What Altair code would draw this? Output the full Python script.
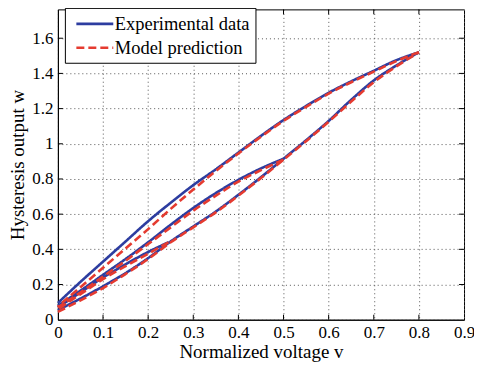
import altair as alt
import pandas as pd

SERIES = ["Experimental data", "Model prediction"]
COLORS = ["#2D3DA0", "#E53B30"]
DASHES = [[1, 0], [8, 4]]

x_ticks = [0, 0.1, 0.2, 0.3, 0.4, 0.5, 0.6, 0.7, 0.8, 0.9]
y_ticks = [0, 0.2, 0.4, 0.6, 0.8, 1, 1.2, 1.4, 1.6]

# ascending (lower) branch, shared by all loops
asc_v = [0.0, 0.05, 0.1, 0.15, 0.2, 0.25, 0.3, 0.35, 0.4, 0.45, 0.5, 0.55, 0.6, 0.65, 0.7, 0.75, 0.8]
exp_asc_w = [0.055, 0.12, 0.19, 0.265, 0.35, 0.445, 0.53, 0.615, 0.71, 0.81, 0.915, 1.02, 1.13, 1.25, 1.36, 1.445, 1.52]
mod_asc_w = [0.045, 0.11, 0.18, 0.26, 0.345, 0.44, 0.525, 0.61, 0.705, 0.805, 0.91, 1.015, 1.125, 1.24, 1.35, 1.44, 1.52]

# descending branch from 0.8
big_v = [0.8, 0.75, 0.7, 0.65, 0.6, 0.55, 0.5, 0.45, 0.4, 0.35, 0.3, 0.25, 0.2, 0.15, 0.1, 0.05, 0.0]
exp_big_w = [1.52, 1.475, 1.415, 1.355, 1.29, 1.215, 1.135, 1.045, 0.95, 0.855, 0.765, 0.665, 0.56, 0.445, 0.33, 0.215, 0.095]
mod_big_w = [1.52, 1.47, 1.41, 1.35, 1.285, 1.21, 1.13, 1.04, 0.945, 0.845, 0.74, 0.63, 0.515, 0.405, 0.295, 0.185, 0.075]

# descending branch from 0.5
mid_v = [0.5, 0.45, 0.4, 0.35, 0.3, 0.25, 0.2, 0.15, 0.1, 0.05, 0.0]
exp_mid_w = [0.915, 0.86, 0.795, 0.72, 0.635, 0.54, 0.44, 0.345, 0.255, 0.165, 0.08]
mod_mid_w = [0.91, 0.85, 0.785, 0.705, 0.62, 0.525, 0.43, 0.335, 0.245, 0.155, 0.07]

# descending branch from 0.245
small_v = [0.245, 0.2, 0.15, 0.1, 0.05, 0.0]
exp_small_w = [0.44, 0.385, 0.315, 0.24, 0.155, 0.07]
mod_small_w = [0.44, 0.375, 0.305, 0.23, 0.145, 0.06]

branches = {
    SERIES[0]: [("asc", asc_v, exp_asc_w), ("big", big_v, exp_big_w),
                ("mid", mid_v, exp_mid_w), ("small", small_v, exp_small_w)],
    SERIES[1]: [("asc", asc_v, mod_asc_w), ("big", big_v, mod_big_w),
                ("mid", mid_v, mod_mid_w), ("small", small_v, mod_small_w)],
}

rows = []
for s, blist in branches.items():
    for name, vs, ws in blist:
        for i, (v, w) in enumerate(zip(vs, ws)):
            rows.append({"series": s, "branch": name, "idx": i, "v": v, "w": w})
df = pd.DataFrame(rows)

FONT = "Liberation Serif"
W, H = 407, 311
xscale = alt.Scale(domain=[0, 0.9], nice=False, zero=False)
yscale = alt.Scale(domain=[0, 1.764], nice=False, zero=False)
cscale = alt.Scale(domain=SERIES, range=COLORS)
dscale = alt.Scale(domain=SERIES, range=DASHES)
xaxis = alt.Axis(values=x_ticks, labelExpr="format(datum.value, '~g')", labelFlush=False)
yaxis = alt.Axis(values=y_ticks, labelExpr="format(datum.value, '~g')", labelFlush=False)
XT = "Normalized voltage v"
YT = "Hysteresis output w"

legend = alt.Legend(
    title=None, orient="none", legendX=7, legendY=-1.5,
    symbolType="M-2,0H2", symbolSize=342, symbolStrokeWidth=2.6,
    labelFont=FONT, labelFontSize=18.5, labelColor="black",
    labelOffset=9, strokeColor="black", fillColor="white", padding=5,
    rowPadding=3, symbolOffset=14,
)

def lines(series_name):
    return alt.Chart(df[df["series"] == series_name]).mark_line(
        strokeWidth=2.6, interpolate="monotone"
    ).encode(
        x=alt.X("v:Q", scale=xscale, title=XT, axis=xaxis),
        y=alt.Y("w:Q", scale=yscale, title=YT, axis=yaxis),
        color=alt.Color("series:N", scale=cscale, legend=legend),
        strokeDash=alt.StrokeDash("series:N", scale=dscale, legend=legend),
        detail="branch:N",
        order="idx:Q",
    )

xt = pd.DataFrame({"v": x_ticks[1:-1]})
yt = pd.DataFrame({"w": y_ticks[1:]})
tick_bottom = alt.Chart(xt).mark_rule(color="black").encode(
    x=alt.X("v:Q", scale=xscale, title=XT, axis=xaxis), y=alt.value(H), y2=alt.value(H - 5))
tick_top = alt.Chart(xt).mark_rule(color="black").encode(
    x=alt.X("v:Q", scale=xscale, title=XT, axis=xaxis), y=alt.value(0), y2=alt.value(5))
tick_left = alt.Chart(yt).mark_rule(color="black").encode(
    y=alt.Y("w:Q", scale=yscale, title=YT, axis=yaxis), x=alt.value(0), x2=alt.value(5))
tick_right = alt.Chart(yt).mark_rule(color="black").encode(
    y=alt.Y("w:Q", scale=yscale, title=YT, axis=yaxis), x=alt.value(W), x2=alt.value(W - 5))

chart = alt.layer(
    lines(SERIES[0]), lines(SERIES[1]), tick_bottom, tick_top, tick_left, tick_right
).properties(
    width=W, height=H,
    autosize=alt.AutoSizeParams(type="none"),
    padding={"left": 50, "top": 1, "right": 10, "bottom": 44},
).configure(
    font=FONT
).configure_view(
    stroke="black", strokeWidth=1
).configure_axis(
    labelFont=FONT, labelFontSize=17, labelColor="black",
    titleFont=FONT, titleFontSize=19, titleFontWeight="normal",
    titleColor="black", domainColor="black", ticks=False,
    grid=True, gridDash=[1, 3], gridColor="#555", gridOpacity=1,
).configure_axisX(
    labelPadding=5, titlePadding=2,
).configure_axisY(
    labelPadding=5, titlePadding=4,
)

chart.save("out.html", embed_options={"renderer": "svg", "actions": False})
